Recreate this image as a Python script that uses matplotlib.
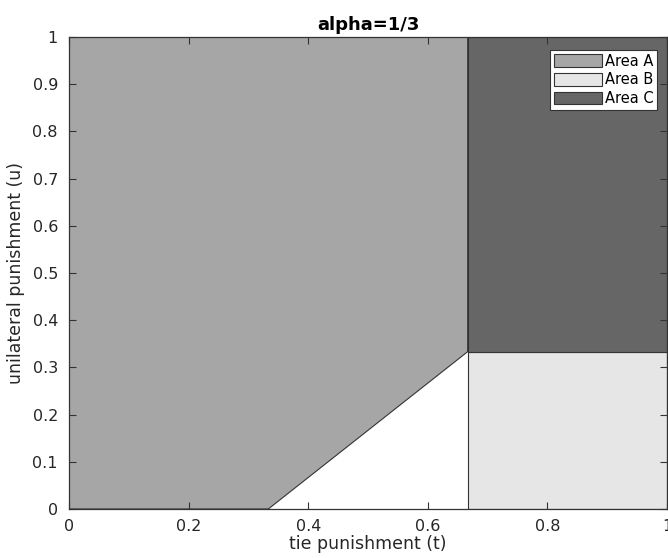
import numpy as np
import matplotlib
matplotlib.use("Agg")
import matplotlib.pyplot as plt
from matplotlib.patches import Polygon

alpha_label = "alpha=1/3"
a = 1.0 / 3

# region corners (t, u)
area_a = [(0, 0), (a, 0), (2 * a, a), (2 * a, 1), (0, 1)]
area_b = [(2 * a, 0), (1, 0), (1, a), (2 * a, a)]
area_c = [(2 * a, a), (1, a), (1, 1), (2 * a, 1)]
names = ["Area A", "Area B", "Area C"]
colors = ["#a6a6a6", "#e6e6e6", "#666666"]

xticks = [0, 0.2, 0.4, 0.6, 0.8, 1]
xticklabels = ["0", "0.2", "0.4", "0.6", "0.8", "1"]
yticks = [0, 0.1, 0.2, 0.3, 0.4, 0.5, 0.6, 0.7, 0.8, 0.9, 1]
yticklabels = ["0", "0.1", "0.2", "0.3", "0.4", "0.5", "0.6", "0.7", "0.8", "0.9", "1"]

fig = plt.figure(figsize=(6.68, 5.58), dpi=100)
# axes box: left 69px, right 667px, top 37px, bottom 509px
ax = fig.add_axes([69 / 668, 49 / 558, 598 / 668, 472 / 558])

for pts, name, col in zip([area_a, area_b, area_c], names, colors):
    ax.add_patch(Polygon(pts, closed=True, facecolor=col, edgecolor="#333333",
                         linewidth=0.8, label=name))

ax.set_xlim(0, 1)
ax.set_ylim(0, 1)
ax.set_xticks(xticks)
ax.set_xticklabels(xticklabels)
ax.set_yticks(yticks)
ax.set_yticklabels(yticklabels)
ax.tick_params(direction="in", top=True, right=True, labelsize=11.5, length=5,
               color="#333333", labelcolor="#262626")
ax.tick_params(axis="x", pad=7)
ax.tick_params(axis="y", pad=8)
for s in ax.spines.values():
    s.set_color("#333333")
    s.set_linewidth(0.9)

ax.set_xlabel("tie punishment (t)", fontsize=12.5, labelpad=1, color="#262626")
ax.set_ylabel("unilateral punishment (u)", fontsize=12.5, labelpad=5, color="#262626")
ax.set_title(alpha_label, fontsize=13, fontweight="bold", pad=5)

leg = ax.legend(loc="upper right", fontsize=10.5, fancybox=False, framealpha=1,
                edgecolor="#333333", borderpad=0.25, labelspacing=0.25,
                handlelength=3.3, handleheight=0.95, handletextpad=0.2,
                borderaxespad=0, bbox_to_anchor=(1 - 10 / 598, 1 - 13 / 472))
leg.get_frame().set_linewidth(0.8)

fig.savefig("out.png", dpi=100)
